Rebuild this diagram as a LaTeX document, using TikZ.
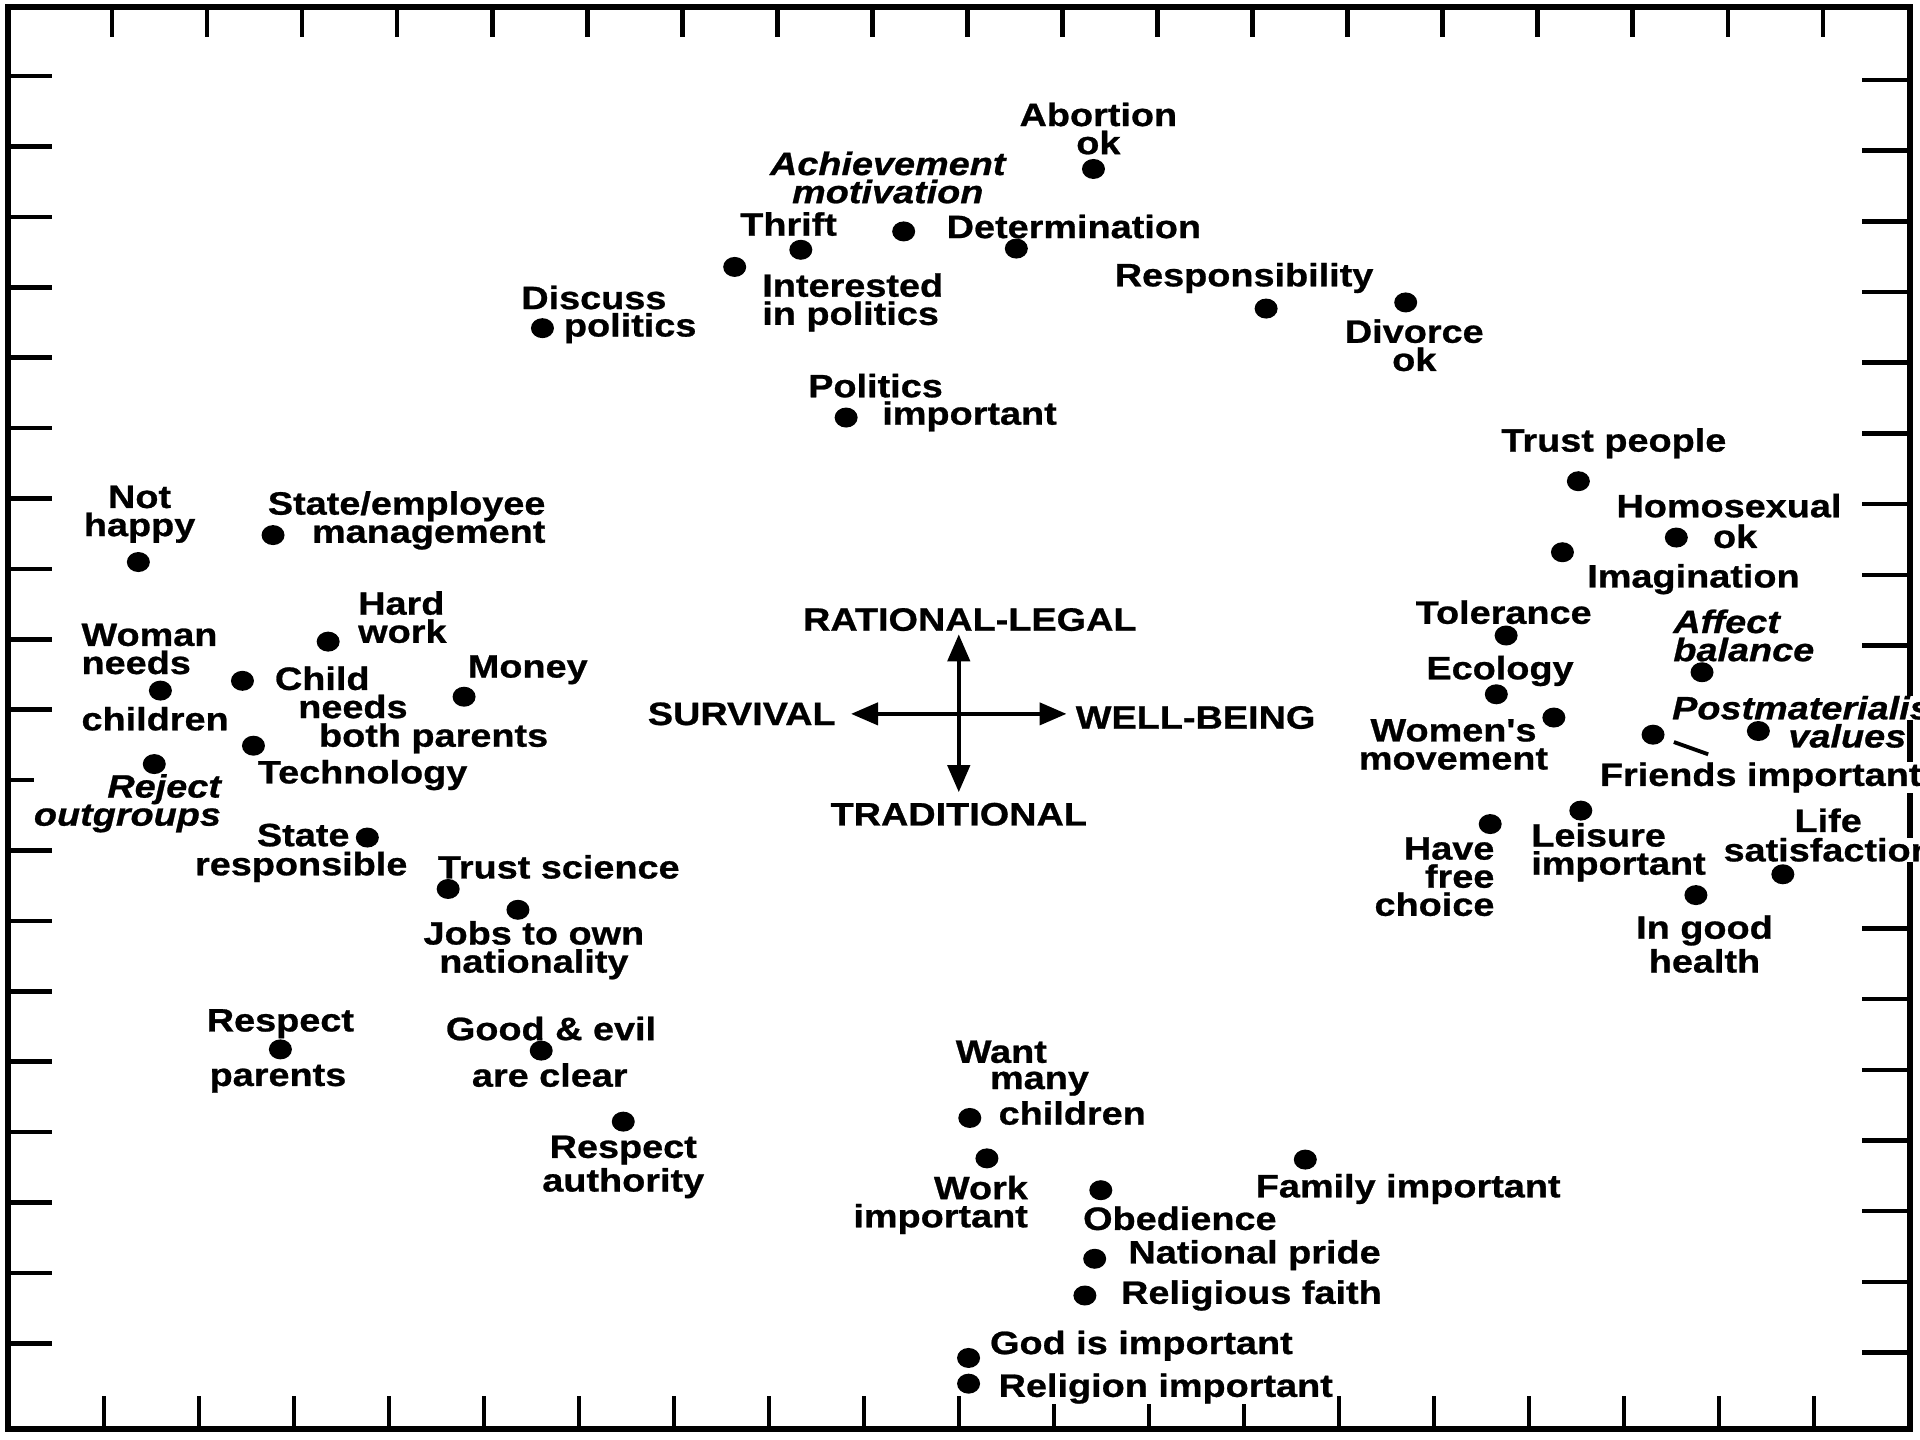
\documentclass[tikz,border=0pt]{standalone}
\usepackage{fontspec}
\usetikzlibrary{arrows.meta,shapes.geometric}
\newfontfamily\lfam[FakeStretch=1.17,FakeBold=0.8]{Liberation Sans}
\newcommand\lf{\lfam\bfseries\fontsize{9.2}{8}\selectfont}
\begin{document}
\begin{tikzpicture}[x=0.12245mm,y=-0.12245mm,
  lab/.style={font=\lf, fill=white, inner sep=0pt, align=center},
  labw/.style={lab, anchor=west, align=left},
  labe/.style={lab, anchor=east, align=right},
  ital/.style={font=\lf\itshape},
  pt/.style={ellipse, fill=black, inner sep=0pt, minimum width=2.3mm, minimum height=2.0mm},
  frame/.style={line width=1.7pt},
  tick/.style={line width=1.3pt},
  axis/.style={line width=1.2pt, {Triangle[length=2.7mm,width=2.2mm]}-{Triangle[length=2.7mm,width=2.2mm]}}]
\useasboundingbox (0,0) rectangle (1568,1176);
\clip (0,0) rectangle (1568,1176);
\fill[white] (0,0) rectangle (1568,1176);
% frame and ticks
\draw[frame] (6.5,6) rectangle (1560,1167);
\foreach \i in {0,...,18} {
  \draw[tick] ({91.5+77.62*\i},6) -- ++(0,24.5);
  \draw[tick] ({84.9+77.58*\i},1167) -- ++(0,-27);
  \draw[tick] (6.5,{62.1+57.5*\i}) -- ++(36,0);
  \draw[tick] (1560,{65.3+57.74*\i}) -- ++(-39,0);
}
% labels
\node[lab] (labo) at (897,105) {Abortion\\ok};
\node[lab,ital] (lach) at (725,145) {Achievement\\motivation};
\node[lab] (lthr) at (644,183) {Thrift};
\node[lab] (ldet) at (877,185) {Determination};
\node[labw] (lint) at (622,247) {Interested\\in politics};
\node[lab] (ldis) at (485,243) {Discuss};
\node[labw] (ldis2) at (460,268) {politics};
\node[lab] (lres) at (1016,227) {Responsibility};
\node[lab] (ldiv) at (1155,282) {Divorce\\ok};
\node[lab] (lpol) at (715,315) {Politics};
\node[labw] (lpol2) at (720,340) {important};
\node[lab] (ltru) at (1318,362) {Trust people};
\node[lab] (lhom) at (1412,413) {Homosexual};
\node[lab] (lhom2) at (1417,438) {ok};
\node[lab] (lima) at (1383,473) {Imagination};
\node[lab] (lnha) at (114,420) {Not\\happy};
\node[labe] (lsem) at (446,425) {State/employee\\management};
\node[labw] (lhw) at (292,504) {Hard\\work};
\node[labw] (lwnc) at (66,530) {Woman\\needs};
\node[labw] (lwnc2) at (66,587) {children};
\node[labw] (lcnb) at (224,554) {Child};
\node[labw] (lcnb2) at (243,577) {needs};
\node[labw] (lcnb3) at (260,603) {both parents};
\node[lab] (lmon) at (431,547) {Money};
\node[labw] (ltec) at (210,633) {Technology};
\node[labe,ital] (lrej) at (181,656) {Reject\\outgroups};
\node[labe] (lsr) at (286,682) {State};
\node[lab] (lsr2) at (246,708) {responsible};
\node[labw] (lts) at (357,708) {Trust science};
\node[lab] (ljob) at (436,776) {Jobs to own\\nationality};
\node[lab] (lrp) at (229,836) {Respect};
\node[lab] (lrp2) at (227,881) {parents};
\node[lab] (lge) at (450,840) {Good \& evil};
\node[lab] (lge2) at (449,878) {are clear};
\node[lab] (lra) at (509,953) {Respect\\authority};
\node[labw] (lwmc) at (780,859) {Want};
\node[labw] (lwmc2) at (808,885) {many};
\node[labw] (lwmc3) at (815,909) {children};
\node[labe] (lwi) at (840,984) {Work\\important};
\node[labw] (lfi) at (1025,971) {Family important};
\node[labw] (lob) at (884,995) {Obedience};
\node[labw] (lnp) at (921,1025) {National pride};
\node[labw] (lrf) at (915,1058) {Religious faith};
\node[labw] (lgod) at (808,1099) {God is important};
\node[labw] (lrel) at (815,1134) {Religion important};
\node[lab] (ltol) at (1228,500) {Tolerance};
\node[labw,ital] (laff) at (1366,519) {Affect\\balance};
\node[lab] (leco) at (1225,548) {Ecology};
\node[lab] (lwom) at (1187,608) {Women's\\movement};
\node[labw] (lfri) at (1306,635) {Friends important};
\node[labw,ital] (lpmv) at (1365,578) {Postmaterialist};
\node[labw,ital] (lpmv2) at (1460,601) {values};
\node[labe] (lhfc) at (1221,716) {Have\\free\\choice};
\node[labw] (llei) at (1250,696) {Leisure\\important};
\node[lab] (lls) at (1493,670) {Life};
\node[labw] (lls2) at (1407,694) {satisfaction};
\node[lab] (ligh) at (1392,771) {In good\\health};
% axis cross
\node[lab] (rl) at (792,506) {RATIONAL-LEGAL};
\node[labe] (sv) at (683,583) {SURVIVAL};
\node[labw] (wb) at (878,586) {WELL-BEING};
\node[lab] (trd) at (783,665) {TRADITIONAL};
\coordinate (ctop) at (783,518);
\coordinate (cbot) at (783,647);
\coordinate (cleft) at (695,583);
\coordinate (cright) at (871,583);
\draw[axis] (ctop) -- (cbot);
\draw[axis] (cleft) -- (cright);
% dots
\node[pt] (abo) at (893,138) {};
\node[pt] (ach) at (738,189) {};
\node[pt] (thr) at (654,204) {};
\node[pt] (det) at (830,203) {};
\node[pt] (int) at (600,218) {};
\node[pt] (dis) at (443,268) {};
\node[pt] (res) at (1034,252) {};
\node[pt] (div) at (1148,247) {};
\node[pt] (pol) at (691,341) {};
\node[pt] (tru) at (1289,393) {};
\node[pt] (hom) at (1369,439) {};
\node[pt] (ima) at (1276,451) {};
\node[pt] (nha) at (113,459) {};
\node[pt] (sem) at (223,437) {};
\node[pt] (hw) at (268,524) {};
\node[pt] (wnc) at (131,564) {};
\node[pt] (cnb) at (198,556) {};
\node[pt] (mon) at (379,569) {};
\node[pt] (tec) at (207,609) {};
\node[pt] (rej) at (126,624) {};
\node[pt] (sr) at (300,684) {};
\node[pt] (ts) at (366,726) {};
\node[pt] (job) at (423,743) {};
\node[pt] (rp) at (229,857) {};
\node[pt] (ge) at (442,858) {};
\node[pt] (ra) at (509,916) {};
\node[pt] (wmc) at (792,913) {};
\node[pt] (wi) at (806,946) {};
\node[pt] (fi) at (1066,947) {};
\node[pt] (ob) at (899,972) {};
\node[pt] (np) at (894,1028) {};
\node[pt] (rf) at (886,1058) {};
\node[pt] (god) at (791,1109) {};
\node[pt] (rel) at (791,1130) {};
\node[pt] (tol) at (1230,519) {};
\node[pt] (aff) at (1390,549) {};
\node[pt] (eco) at (1222,567) {};
\node[pt] (wom) at (1269,586) {};
\node[pt] (fri) at (1350,600) {};
\node[pt] (pmv) at (1436,597) {};
\node[pt] (hfc) at (1217,673) {};
\node[pt] (lei) at (1291,662) {};
\node[pt] (ls) at (1456,714) {};
\node[pt] (igh) at (1385,731) {};
\coordinate (frileader) at (1395,616);
\draw[line width=1.1pt] ([shift={(17,6)}]fri.center) -- (frileader);
\end{tikzpicture}
\end{document}
